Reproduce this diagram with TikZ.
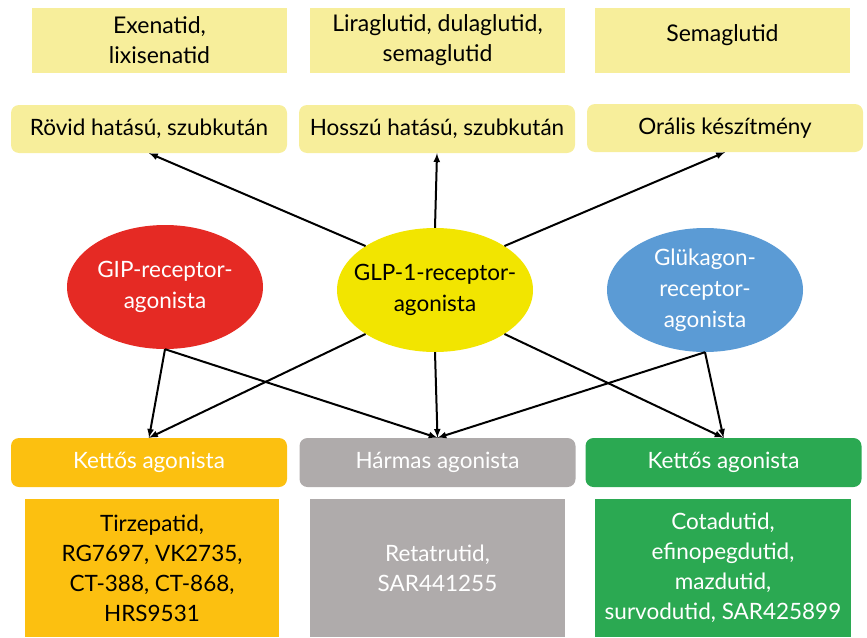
\documentclass[tikz,border=0pt]{standalone}
\usepackage{fontspec}
\setmainfont{Lato}
\usepackage{tikz}
\usetikzlibrary{arrows}
\usetikzlibrary{arrows.meta}
\usetikzlibrary{shapes.geometric}
\definecolor{halvany}{HTML}{F7EE9B}
\definecolor{piros}{HTML}{E52A24}
\definecolor{sarga}{HTML}{F2E500}
\definecolor{kek}{HTML}{5B9BD5}
\definecolor{narancs}{HTML}{FCC010}
\definecolor{szurke}{HTML}{AFABAB}
\definecolor{zold}{HTML}{2BA952}
\tikzset{>=latex}
\tikzstyle{kesz} = [draw=none, fill=halvany, minimum width=255pt, minimum height=65pt, inner sep=0, align=center, font=\fontsize{23}{30}\selectfont]
\tikzstyle{mod} = [draw=none, fill=halvany, rounded corners=8pt, minimum width=276pt, minimum height=48pt, inner sep=0, font=\fontsize{22.5}{26}\selectfont]
\tikzstyle{rec} = [draw=none, ellipse, minimum width=196pt, minimum height=124pt, inner sep=-30pt, align=center, font=\fontsize{22.5}{31}\selectfont]
\tikzstyle{tipus} = [draw=none, rounded corners=8pt, minimum width=276pt, minimum height=49pt, inner sep=0, text=white, font=\fontsize{22.5}{26}\selectfont]
\tikzstyle{lista} = [draw=none, minimum width=255pt, minimum height=138pt, inner sep=0, align=center, font=\fontsize{22.5}{30}\selectfont]
\tikzstyle{nyil} = [-latex, line width=2pt]

\begin{document}
\begin{tikzpicture}[x=1pt, y=-1pt]
\useasboundingbox (0, 0) rectangle (867, 637);
% keszitmenyek
\node [kesz] (exen) at (159.5, 40.5) {Exenatid,\\lixisenatid};
\node [kesz] (lira) at (437.5, 40.5) {Liraglutid, dulaglutid,\\semaglutid};
\node [kesz, text depth=15pt] (sema) at (722.5, 40.5) {Semaglutid};
\node [mod] (rovid) at (149, 129) {Rövid hatású, szubkután};
\node [mod] (hosszu) at (437, 129) {Hosszú hatású, szubkután};
\node [mod] (oralis) at (725, 128) {Orális készítmény};
% receptorok
\node [rec, fill=piros, text=white] (gip) at (165, 287) {GIP-receptor-\\agonista};
\node [rec, fill=sarga] (glp) at (435, 290) {GLP-1-receptor-\\agonista};
\node [rec, fill=kek, text=white] (gluk) at (705, 290) {Glükagon-\\receptor-\\agonista};
% agonistak
\node [tipus, fill=narancs] (ketto1) at (149, 462.5) {Kettős agonista};
\node [tipus, fill=szurke] (harom) at (437.5, 462.5) {Hármas agonista};
\node [tipus, fill=zold] (ketto2) at (723.5, 462.5) {Kettős agonista};
\node [lista, fill=narancs, minimum width=254pt] (tirz) at (152, 568) {Tirzepatid,\\RG7697, VK2735,\\CT-388, CT-868,\\HRS9531};
\node [lista, fill=szurke, text=white] (reta) at (437.5, 568) {Retatrutid,\\SAR441255};
\node [lista, fill=zold, text=white, minimum width=256pt] (cota) at (723, 568) {Cotadutid,\\efinopegdutid,\\mazdutid,\\survodutid, SAR425899};
% nyilak
\draw [nyil] (glp.north west) to (rovid.south);
\draw [nyil] (glp.north) to (hosszu.south);
\draw [nyil] (glp.north east) to (oralis.south);
\draw [nyil] (gip.south) to (ketto1.north);
\draw [nyil] (gip.south) to (harom.north);
\draw [nyil] (glp.south west) to (ketto1.north);
\draw [nyil] (glp.south) to (harom.north);
\draw [nyil] (glp.south east) to (ketto2.north);
\draw [nyil] (gluk.south) to (harom.north);
\draw [nyil] (gluk.south) to (ketto2.north);
\end{tikzpicture}
\end{document}
